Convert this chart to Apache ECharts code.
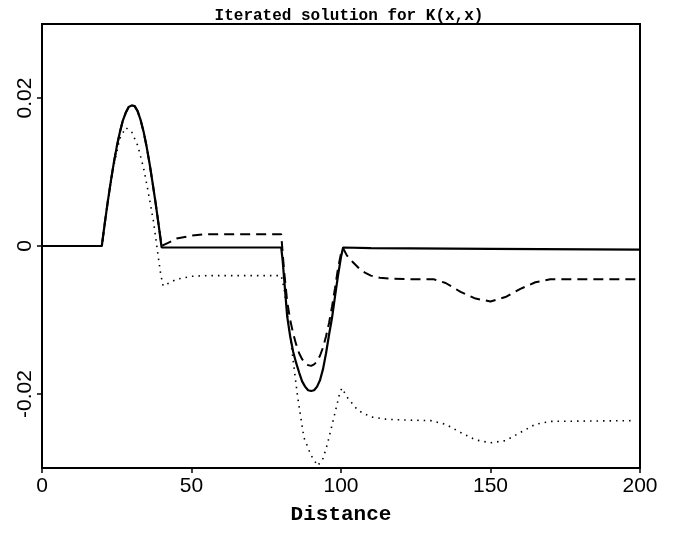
<!DOCTYPE html>
<html>
<head>
<meta charset="utf-8">
<script src="https://cdn.jsdelivr.net/npm/echarts@6/dist/echarts.min.js"></script>
<style>
  html, body { margin: 0; padding: 0; background: #fff; }
  #chart { width: 676px; height: 534px; }
</style>
</head>
<body>
<div id="chart"></div>
<script>
// 数据: 值
var titleText = 'Iterated solution for K(x,x)';
var xName = 'Distance';
var xTicks = [0, 50, 100, 150, 200];
var yTicks = [-0.02, 0, 0.02];

// 实线
var solidX = [0, 20, 21, 22, 23, 24, 25, 26, 27, 28, 29, 30, 31, 32, 33, 34, 35, 36, 37, 38, 39, 40,
    60, 80, 80.5, 81, 82, 83, 84, 85, 86, 87, 88, 89, 90, 91, 92, 93, 94, 95, 96, 97, 98, 99, 100, 100.7,
    110, 150, 200];
var solidY = [0, 0, 0.0031, 0.0060, 0.0087, 0.0112, 0.0134, 0.0153, 0.0169, 0.0180, 0.0188, 0.0190, 0.0189,
    0.0182, 0.0170, 0.0154, 0.0134, 0.0111, 0.0085, 0.0058, 0.0029, -0.0002,
    -0.0002, -0.0002, -0.0020, -0.0045, -0.0095, -0.0122, -0.0143, -0.0158, -0.0171, -0.0183, -0.0190, -0.0195,
    -0.0196, -0.0195, -0.0190, -0.0181, -0.0166, -0.0145, -0.0120, -0.0097, -0.0068, -0.0040, -0.0015, -0.0002,
    -0.0003, -0.0004, -0.0005];

// 虚线
var dashX = [0, 20, 21, 22, 23, 24, 25, 26, 27, 28, 29, 30, 31, 32, 33, 34, 35, 36, 37, 38, 39, 40,
    42, 45, 50, 55, 80, 80.5, 81, 82, 83, 84, 85, 86, 87, 88, 89, 90, 91, 92, 93, 94, 95, 96, 97, 98, 99, 100, 100.7,
    102, 104, 106, 108, 110, 113, 116, 125, 131, 135, 140, 145, 150, 155, 160, 165, 170, 180, 200];
var dashY = [0, 0, 0.0031, 0.0060, 0.0087, 0.0112, 0.0134, 0.0153, 0.0169, 0.0180, 0.0188, 0.0190, 0.0189,
    0.0182, 0.0170, 0.0154, 0.0134, 0.0111, 0.0085, 0.0058, 0.0029, 0,
    0.0004, 0.0010, 0.0014, 0.0016, 0.0016, -0.0010, -0.0035, -0.0075, -0.0100, -0.0118, -0.0133, -0.0145, -0.0153,
    -0.0158, -0.0161, -0.0162, -0.0160, -0.0156, -0.0148, -0.0137, -0.0122, -0.0104, -0.0082, -0.0057, -0.0030,
    -0.0010, -0.0003,
    -0.0013, -0.0022, -0.0030, -0.0036, -0.0040, -0.0043, -0.0044, -0.0045, -0.0045, -0.0050, -0.0062, -0.0071,
    -0.0075, -0.0069, -0.0058, -0.0049, -0.0045, -0.0045, -0.0045];

// 点线
var dotX = [0, 20, 22, 24, 26, 28, 30, 32, 34, 35.3, 37.3, 39, 39.7, 40.5, 42, 45, 50, 55, 80,
    81, 83, 85.5, 87.6, 90, 92.2, 94, 95.5, 97, 98.2, 99.5, 100.3, 102, 105.6, 110, 115, 120,
    130, 135, 140, 145, 150, 155, 160, 165, 170, 198];
var dotY = [0, 0, 0.0058, 0.0108, 0.0145, 0.0160, 0.0154, 0.0136, 0.0105, 0.0078, 0.0033, -0.0018, -0.0038,
    -0.0054, -0.0051, -0.0045, -0.0041, -0.0040, -0.0040,
    -0.0058, -0.0122, -0.0204, -0.0259, -0.0283, -0.0297, -0.0287, -0.0267, -0.0242, -0.0222, -0.0200, -0.0192,
    -0.0204, -0.0222, -0.0231, -0.0234, -0.0235,
    -0.0236, -0.0241, -0.0252, -0.0262, -0.0266, -0.0263, -0.0252, -0.0241, -0.0237, -0.0236];

function pairs(xs, ys) {
    return xs.map(function (x, i) { return [x, ys[i]]; });
}

var chart = echarts.init(document.getElementById('chart'), null, { renderer: 'canvas' });
chart.setOption({
    backgroundColor: '#fff',
    animation: false,
    title: {
        text: titleText,
        left: 344,
        top: 3,
        textAlign: 'center',
        textStyle: {
            fontFamily: 'Liberation Mono',
            fontWeight: 'bold',
            fontSize: 16,
            color: '#000'
        }
    },
    grid: {
        show: true,
        left: 42,
        right: 36,
        top: 24,
        bottom: 66,
        borderColor: '#000',
        borderWidth: 2,
        backgroundColor: 'transparent'
    },
    xAxis: {
        type: 'value',
        min: 0,
        max: 200,
        interval: 50,
        name: xName,
        nameLocation: 'middle',
        nameGap: 36,
        nameTextStyle: {
            fontFamily: 'Liberation Mono',
            fontWeight: 'bold',
            fontSize: 21,
            color: '#000'
        },
        axisLine: { show: true, onZero: false, lineStyle: { color: '#000', width: 2 } },
        axisTick: { show: true, inside: false, length: 5, lineStyle: { color: '#000', width: 1.5 } },
        axisLabel: {
            color: '#000',
            fontFamily: 'Liberation Sans',
            fontSize: 21,
            margin: 8,
            customValues: xTicks
        },
        splitLine: { show: false }
    },
    yAxis: {
        type: 'value',
        min: -0.03,
        max: 0.03,
        axisLine: { show: true, onZero: false, lineStyle: { color: '#000', width: 2 } },
        axisTick: { show: true, inside: false, length: 5, lineStyle: { color: '#000', width: 1.5 }, customValues: yTicks },
        axisLabel: {
            color: '#000',
            fontFamily: 'Liberation Sans',
            fontSize: 21,
            rotate: 90,
            margin: 6,
            customValues: yTicks,
            formatter: function (v) {
                if (Math.abs(v) < 1e-9) return '0';
                return v.toFixed(2);
            }
        },
        splitLine: { show: false }
    },
    series: [
        {
            type: 'line',
            data: pairs(dotX, dotY),
            showSymbol: false,
            lineStyle: { color: '#000', width: 1.6, type: [1.5, 5] },
            z: 2
        },
        {
            type: 'line',
            data: pairs(dashX, dashY),
            showSymbol: false,
            lineStyle: { color: '#000', width: 2, type: [10, 6] },
            z: 3
        },
        {
            type: 'line',
            data: pairs(solidX, solidY),
            showSymbol: false,
            lineStyle: { color: '#000', width: 2.2 },
            z: 4
        }
    ]
});
</script>
</body>
</html>
